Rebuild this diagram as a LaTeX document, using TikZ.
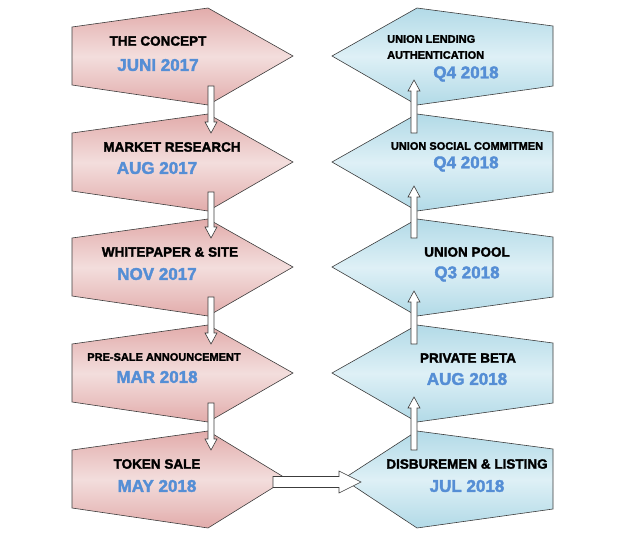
\documentclass[tikz,border=0pt]{standalone}
\usepackage{fontspec}
\setmainfont{Liberation Sans}[BoldFeatures={FakeBold=2}]
\usetikzlibrary{positioning, calc}
\definecolor{pinkedge}{RGB}{226,172,171}
\definecolor{pinkmid}{RGB}{243,222,221}
\definecolor{blueedge}{RGB}{178,218,231}
\definecolor{bluemid}{RGB}{222,240,246}
\definecolor{datecol}{RGB}{85,142,213}
\definecolor{rim}{RGB}{60,60,60}

% block arrow: shaft half width, head half width, head length, from, to
\newcommand{\blockarrow}[5]{%
  \coordinate (hb) at ($(#5)!#3!(#4)$);
  \draw [rim, fill=white, line width=0.6pt]
    ($(#4)!#1!90:(#5)$) -- ($(hb)!#1!90:(#5)$) -- ($(hb)!#2!90:(#5)$) -- (#5)
    -- ($(hb)!#2!-90:(#5)$) -- ($(hb)!#1!-90:(#5)$) -- ($(#4)!#1!-90:(#5)$) -- cycle;}

\begin{document}
\begin{tikzpicture}[
          x = 1pt, y = -1pt,
          inner sep = 0
        ]
          \tikzstyle {leftstep} = [draw = rim, line width = 0.6pt, top color = pinkedge, bottom color = pinkedge, middle color = pinkmid]
          \tikzstyle {rightstep} = [draw = rim, line width = 0.6pt, top color = blueedge, bottom color = blueedge, middle color = bluemid]
          \tikzstyle {title} = [font = \fontsize{13.5}{15}\bfseries]
          \tikzstyle {small} = [font = \fontsize{11}{16}\bfseries]
          \tikzstyle {date} = [font = \fontsize{17}{19}\bfseries, text = datecol]
          \useasboundingbox (0,0) rectangle (629,552);
          % place steps
          \foreach \i/\y/\tip in {1/56/293, 2/162/293, 3/267/293, 4/373/293, 5/479/287}
            { \path [leftstep] (72,\y-29) -- (208,\y-48) -- (\tip,\y) -- (208,\y+49) -- (72,\y+29) -- cycle;
              \coordinate (L\i-in) at (211,\y-29);
              \coordinate (L\i-out) at (211,\y+30); } ;
          \foreach \i/\y/\tip in {1/56/332, 2/162/332, 3/267/332, 4/373/332, 5/479/343}
            { \path [rightstep] (553,\y-30) -- (417,\y-48) -- (\tip,\y) -- (417,\y+49) -- (553,\y+30) -- cycle;
              \coordinate (R\i-in) at (414,\y+24);
              \coordinate (R\i-out) at (414,\y-29); } ;
          \coordinate (L5-right) at (273,482);
          \coordinate (R5-left) at (361,482);
          % place nodes
          \path node (L1t) [title] at (158,41) {THE CONCEPT};
          \path node (L1d) [date] at (158,65) {JUNI 2017};
          \path node (L2t) [title] at (172,147) {MARKET RESEARCH};
          \path node (L2d) [date] at (157,168) {AUG 2017};
          \path node (L3t) [title] at (170,252) {WHITEPAPER \& SITE};
          \path node (L3d) [date] at (157,274) {NOV 2017};
          \path node (L4t) [small] at (164,357) {PRE-SALE ANNOUNCEMENT};
          \path node (L4d) [date] at (157,377) {MAR 2018};
          \path node (L5t) [title] at (157,464) {TOKEN SALE};
          \path node (L5d) [date] at (157,486) {MAY 2018};
          \path node (R1t) [small, anchor = west, align = left] at (387,47) {UNION LENDING\\AUTHENTICATION};
          \path node (R1d) [date] at (466,74) {Q4 2018};
          \path node (R2t) [small] at (467,146) {UNION SOCIAL COMMITMEN};
          \path node (R2d) [date] at (466,164) {Q4 2018};
          \path node (R3t) [title] at (467,252) {UNION POOL};
          \path node (R3d) [date] at (467,274) {Q3 2018};
          \path node (R4t) [title] at (468,358) {PRIVATE BETA};
          \path node (R4d) [date] at (467,379) {AUG 2018};
          \path node (R5t) [title] at (467,464) {DISBUREMEN \& LISTING};
          \path node (R5d) [date] at (467,486) {JUL 2018};
          % place edges
          \foreach \i [evaluate = \i as \j using int(\i+1)] in {1,...,4}
            { \blockarrow{3pt}{6pt}{11pt}{L\i-out}{L\j-in}
              \blockarrow{3pt}{6pt}{11pt}{R\j-out}{R\i-in} } ;
          \blockarrow{5.5pt}{11pt}{22pt}{L5-right}{R5-left}
        \end{tikzpicture}
\end{document}
